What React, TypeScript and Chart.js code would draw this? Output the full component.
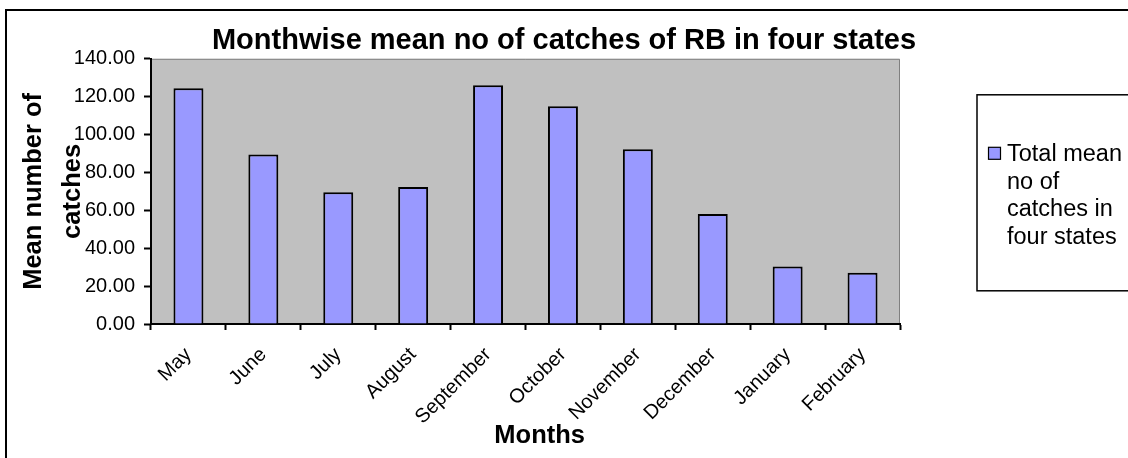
import React, { useEffect, useRef } from 'react';
import { Chart, registerables } from 'chart.js';

Chart.register(...registerables);

const CHART_TITLE = 'Monthwise mean no of catches of RB in four states';
const Y_TITLE = ['Mean number of', 'catches'];
const X_TITLE = '    Months';
const MONTHS = ['May', 'June', 'July', 'August', 'September', 'October', 'November', 'December', 'January', 'February'];
const MEAN_CATCHES = [124.4, 89.5, 69.5, 72.3, 126.1, 114.9, 92.3, 58.1, 30.3, 27.0];
const SERIES_LABEL = 'Total mean no of catches in four states';
const LEGEND_LINES = ['Total mean', 'no of', 'catches in', 'four states'];
const Y_MIN = 0;
const Y_MAX = 140;
const Y_STEP = 20;

const FONT = "'Liberation Sans', Arial, sans-serif";
const BAR_FILL = '#9999FF';

const decorPlugin = {
  id: 'decor',
  beforeDraw(chart: any) {
    const { ctx, chartArea: a } = chart;
    ctx.save();
    ctx.fillStyle = '#C0C0C0';
    ctx.fillRect(a.left, a.top, a.right - a.left, a.bottom - a.top);
    ctx.strokeStyle = '#808080';
    ctx.lineWidth = 1;
    ctx.beginPath();
    ctx.moveTo(a.left, a.top + 0.5);
    ctx.lineTo(a.right - 0.5, a.top + 0.5);
    ctx.lineTo(a.right - 0.5, a.bottom);
    ctx.stroke();
    ctx.restore();
  },
  afterDraw(chart: any) {
    const { ctx, chartArea: a } = chart;
    ctx.save();
    // outer chart frame
    ctx.strokeStyle = '#000';
    ctx.lineWidth = 2;
    ctx.strokeRect(6, 10, 1300, 700);
    // legend box
    const lx = a.right + 77;
    const ly = a.top + 36;
    const lb = a.top + 232;
    ctx.lineWidth = 1.5;
    ctx.strokeRect(lx, ly, 400, lb - ly);
    // legend swatch
    const ds = chart.data.datasets[0];
    ctx.fillStyle = ds.backgroundColor;
    ctx.fillRect(lx + 11.5, a.top + 88.5, 12, 12);
    ctx.lineWidth = 1.2;
    ctx.strokeRect(lx + 11.5, a.top + 88.5, 12, 12);
    // legend text
    ctx.fillStyle = '#000';
    ctx.font = `23.5px ${FONT}`;
    ctx.textBaseline = 'alphabetic';
    ctx.textAlign = 'left';
    LEGEND_LINES.forEach((line, i) => {
      ctx.fillText(line, lx + 30, a.top + 102 + i * 27.7);
    });
    ctx.restore();
  },
};

export default function App() {
  const canvasRef = useRef<HTMLCanvasElement | null>(null);

  useEffect(() => {
    const canvas = canvasRef.current;
    if (!canvas) return;
    Chart.defaults.font.family = FONT;
    Chart.defaults.color = '#000';
    const chart = new Chart(canvas, {
      type: 'bar',
      data: {
        labels: MONTHS,
        datasets: [
          {
            label: SERIES_LABEL,
            data: MEAN_CATCHES,
            backgroundColor: BAR_FILL,
            borderColor: '#000',
            borderWidth: 2,
            barPercentage: 0.4,
            categoryPercentage: 1,
            yAxisID: 'y',
          },
        ],
      },
      options: {
        responsive: false,
        animation: false,
        devicePixelRatio: 1,
        layout: { padding: 0 },
        plugins: {
          legend: { display: false },
          tooltip: { enabled: false },
          title: {
            display: true,
            text: CHART_TITLE,
            color: '#000',
            font: { family: FONT, size: 29, weight: 'bold', lineHeight: 1.2 },
            padding: { top: 24, bottom: 0 },
          },
        },
        scales: {
          x: {
            type: 'category',
            position: 'bottom',
            offset: true,
            grid: {
              display: true,
              offset: true,
              drawOnChartArea: false,
              drawTicks: true,
              tickLength: 6,
              tickColor: '#000',
              tickWidth: 2,
              color: '#000',
            },
            border: { display: true, color: '#000', width: 2 },
            ticks: {
              autoSkip: false,
              minRotation: 45,
              maxRotation: 45,
              padding: 13,
              color: '#000',
              font: { family: FONT, size: 20 },
            },
            title: {
              display: true,
              text: X_TITLE,
              color: '#000',
              font: { family: FONT, size: 25.5, weight: 'bold', lineHeight: 1.2 },
              padding: { top: 0, bottom: 6.5 },
            },
            afterFit: (scale: any) => {
              scale.height = 134;
            },
          },
          y: {
            type: 'linear',
            position: 'left',
            min: Y_MIN,
            max: Y_MAX,
            grid: {
              display: true,
              drawOnChartArea: false,
              drawTicks: true,
              tickLength: 7,
              tickColor: '#000',
              tickWidth: 2,
              color: '#000',
            },
            border: { display: true, color: '#000', width: 2 },
            ticks: {
              stepSize: Y_STEP,
              padding: 9,
              color: '#000',
              font: { family: FONT, size: 20 },
              callback: (v: any) => Number(v).toFixed(2),
            },
            title: {
              display: true,
              text: Y_TITLE,
              color: '#000',
              font: { family: FONT, size: 25.5, weight: 'bold', lineHeight: 39 / 25.5 },
              padding: { top: 14, bottom: 0 },
            },
            afterFit: (scale: any) => {
              scale.width = 151;
            },
          },
          legendSpace: {
            type: 'linear',
            position: 'right',
            display: true,
            grid: { display: false, drawTicks: false },
            border: { display: false },
            ticks: { display: false },
            afterFit: (scale: any) => {
              scale.width = 228;
            },
          },
        },
      },
      plugins: [decorPlugin],
    } as any);
    return () => chart.destroy();
  }, []);

  return (
    <div style={{ position: 'fixed', left: 0, top: 0, width: 1128, height: 458, background: '#fff' }}>
      <canvas ref={canvasRef} width={1128} height={458} style={{ display: 'block', width: 1128, height: 458 }} />
    </div>
  );
}
